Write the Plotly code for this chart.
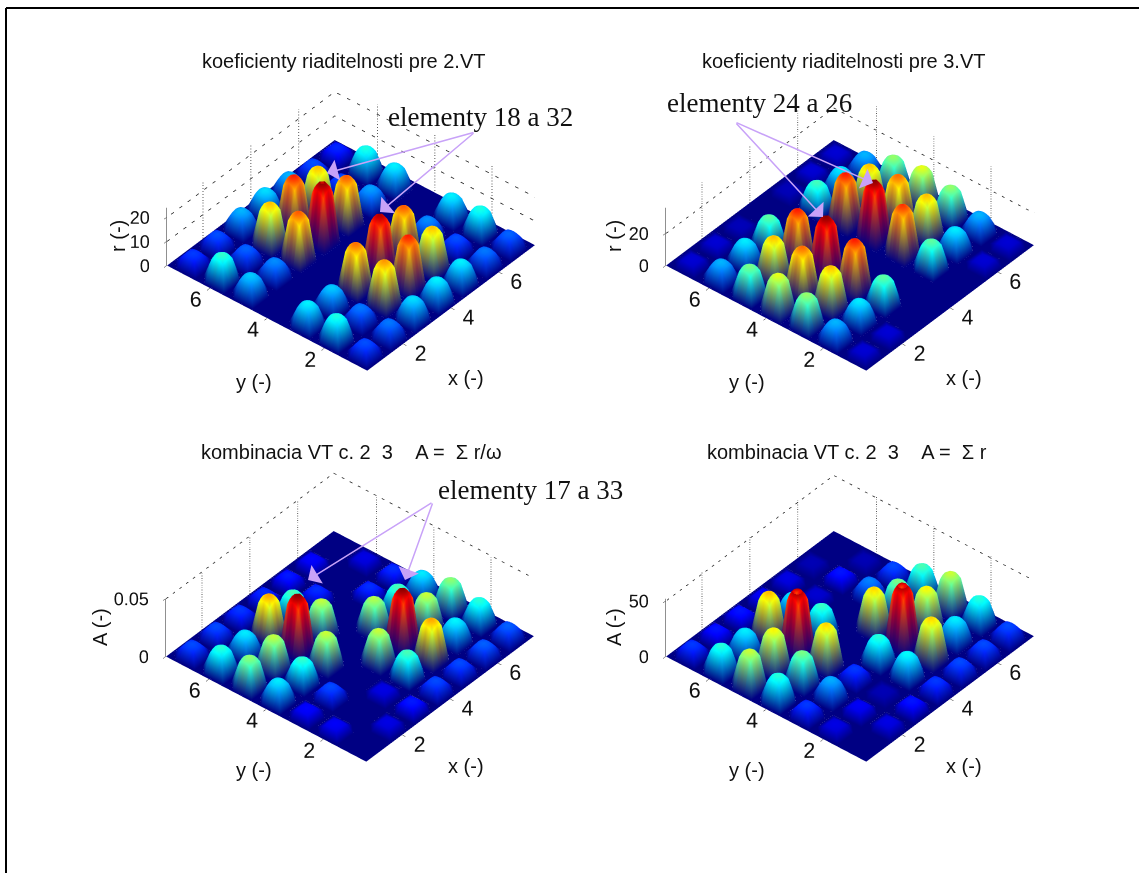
import plotly.graph_objects as go

x_cells = [1, 2, 3, 4, 5, 6, 7]
y_cells = [1, 2, 3, 4, 5, 6, 7]

r_vt2 = [
    [5, 6, 8.5, 9, 9, 6, 5.5],
    [10, 6, 18, 21, 17, 5, 10],
    [9, 8, 19, 23.5, 19.5, 6.5, 9],
    [0, 0, 0, 0, 0, 0, 0],
    [8, 6.5, 19.5, 24.5, 19.5, 7, 9],
    [10.5, 5.5, 17, 21, 17, 5, 10],
    [4.5, 5, 7.5, 8.5, 7.5, 5, 4],
]
r_vt3 = [
    [3, 3, 0, 0, 0, 3, 3],
    [11, 13, 17, 0, 17, 13, 11],
    [19, 25, 31, 0, 30, 25, 19],
    [22, 28, 36, 0, 36, 28, 22],
    [18, 25, 31, 0, 31, 25, 19],
    [11, 13, 17, 0, 16, 13, 11],
    [3, 3, 2, 0, 2, 3, 3],
]
a_omega = [
    [0, .0048, .0072, .0096, .0096, .0106, .0106],
    [.0058, 0, .0048, .0216, .0346, .0178, .0202],
    [.0062, .0096, 0, .0278, .048, .0278, .025],
    [.0173, .0206, .0278, 0, .0269, .0216, .0173],
    [.025, .0274, .048, .0274, 0, .0082, .0082],
    [.0202, .0173, .0346, .0216, .0082, 0, .0048],
    [.0096, .0096, .0086, .0082, .0072, .0062, 0],
]
a_sum = [
    [0, 5.5, 8, 10, 11, 11, 11],
    [5.5, 6.6, 2.8, 21, 37, 20, 23],
    [10, 16.5, 10, 23, 55, 35, 32],
    [23, 27.5, 37, 0, 37, 27.5, 25],
    [32, 35, 55, 24, 0, 14, 11],
    [23, 20, 38.5, 20, 4.4, 8, 2.8],
    [10, 8, 8, 7, 5.5, 2.8, 0],
]

titles = ["koeficienty riaditelnosti pre 2.VT", "koeficienty riaditelnosti pre 3.VT",
          "kombinacia VT c. 2  3    A =  Σ r/ω", "kombinacia VT c. 2  3    A =  Σ r"]
z_tops = [24, 36, 0.05, 52]
z_ticks = [[0, 10, 20], [0, 20], [0, 0.05], [0, 50]]
xy_ticks = [2, 4, 6]

bump_offsets = [-0.5, -0.46, -0.2, -0.1, 0.0, 0.1, 0.2, 0.46]
bump_profile = [0.0, 0.0, 0.9, 0.97, 1.0, 0.97, 0.9, 0.0]

JET = [(0.0, (0, 0, 131)), (0.125, (0, 0, 255)), (0.375, (0, 255, 255)),
       (0.625, (255, 255, 0)), (0.875, (255, 0, 0)), (1.0, (128, 0, 0))]


def jet(t):
    t = max(0.0, min(1.0, t))
    for (a, ca), (b, cb) in zip(JET, JET[1:]):
        if t <= b:
            f = (t - a) / (b - a)
            return "rgb(%d,%d,%d)" % tuple(round(p + (q - p) * f) for p, q in zip(ca, cb))
    return "rgb(128,0,0)"


def build_mesh(values, scene):
    vmax = max(max(r) for r in values)
    xs, ps = [], []
    for c in x_cells:
        for o, p in zip(bump_offsets, bump_profile):
            xs.append(c + o)
            ps.append((c - 1, p))
    xs.append(7.5)
    ps.append((6, 0.0))
    n = len(xs)
    X, Y, Z, C, I, J, K = [], [], [], [], [], [], []
    for jy in range(n):
        for ix in range(n):
            cx, px = ps[ix]
            cy, py = ps[jy]
            z = values[cy][cx] * px * py
            X.append(xs[ix])
            Y.append(xs[jy])
            Z.append(z)
            C.append(jet(z / vmax))
    for jy in range(n - 1):
        for ix in range(n - 1):
            a = jy * n + ix
            b, c, d = a + 1, a + n, a + n + 1
            I += [a, a]
            J += [b, d]
            K += [d, c]
    return go.Mesh3d(x=X, y=Y, z=Z, i=I, j=J, k=K, vertexcolor=C, scene=scene,
                     flatshading=False, hoverinfo="skip", showscale=False,
                     lightposition=dict(x=1000, y=2000, z=10000),
                     lighting=dict(ambient=1, diffuse=0, specular=0, roughness=0.5, fresnel=0.2))


def walls(ztop, ticks, scene):
    X, Y, Z = [], [], []
    for v in xy_ticks:
        X += [v, v, None]
        Y += [7.5, 7.5, None]
        Z += [0, ztop, None]
        X += [7.5, 7.5, None]
        Y += [v, v, None]
        Z += [0, ztop, None]
    for t in ticks[1:]:
        X += [0.5, 7.5, 7.5, None]
        Y += [7.5, 7.5, 0.5, None]
        Z += [t, t, t, None]
    return go.Scatter3d(x=X, y=Y, z=Z, mode="lines", scene=scene, hoverinfo="skip",
                        showlegend=False, line=dict(color="#222222", width=1.5, dash="dot"))


def z_labels(ticks, scene):
    return go.Scatter3d(x=[0.5] * len(ticks), y=[7.5] * len(ticks), z=ticks, mode="text",
                        text=[str(t) for t in ticks], textposition="middle left",
                        scene=scene, hoverinfo="skip", showlegend=False,
                        textfont=dict(size=18, family="Liberation Sans", color="#111111"))


panels = [r_vt2, r_vt3, a_omega, a_sum]
domains = [((0.058, 0.558), (0.501, 0.981)), ((0.496, 0.996), (0.501, 0.981)),
           ((0.057, 0.557), (0.053, 0.533)), ((0.496, 0.996), (0.053, 0.533))]

fig = go.Figure()
layout = dict(width=1139, height=873, margin=dict(l=0, r=0, t=0, b=0),
              paper_bgcolor="white", showlegend=False,
              font=dict(family="Liberation Sans", color="#111111"))
for k, vals in enumerate(panels):
    name = "scene" if k == 0 else "scene%d" % (k + 1)
    fig.add_trace(build_mesh(vals, name))
    fig.add_trace(walls(z_tops[k], z_ticks[k], name))
    fig.add_trace(z_labels(z_ticks[k], name))
    common = dict(showgrid=False, zeroline=False, showbackground=False, showspikes=False,
                  title=dict(text=""), ticks="outside", ticklen=4, tickcolor="#222222", tickangle=0,
                  tickfont=dict(size=16, family="Liberation Sans", color="#111111"))
    pad = z_tops[k] * 0.002
    layout[name] = dict(
        domain=dict(x=domains[k][0], y=domains[k][1]),
        aspectmode="manual", aspectratio=dict(x=1.25, y=1.25, z=0.355),
        camera=dict(eye=dict(x=-0.8, y=-0.67, z=0.84), up=dict(x=0, y=0, z=1),
                    center=dict(x=0, y=0, z=0), projection=dict(type="orthographic")),
        xaxis=dict(range=[0.49, 7.51], tickvals=xy_ticks, showline=False, **common),
        yaxis=dict(range=[0.49, 7.51], tickvals=xy_ticks, showline=False, **common),
        zaxis=dict(range=[-pad, z_tops[k]], tickvals=z_ticks[k], showline=True, linecolor="#222222",
                   linewidth=1, showticklabels=False, **common),
    )
fig.update_layout(**layout)

for x0, y0, x1, y1 in [(6, 8, 6, 873), (6, 8, 1139, 8)]:
    fig.add_shape(type="line", xref="paper", yref="paper", x0=x0 / 1139, x1=x1 / 1139,
                  y0=1 - y0 / 873, y1=1 - y1 / 873, line=dict(color="black", width=2))

title_pos = [(343, 61), (843, 61), (351, 452), (847, 452)]
for t, (px, py) in zip(titles, title_pos):
    fig.add_annotation(x=px / 1139, y=1 - py / 873, xref="paper", yref="paper", showarrow=False,
                       xanchor="center", yanchor="middle",
                       text=t.replace("  ", "\u00a0\u00a0"), font=dict(size=20, family="Liberation Sans", color="#111111"))

labels = [("y (-)", 254, 382), ("x (-)", 466, 378), ("y (-)", 747, 382), ("x (-)", 964, 378),
          ("y (-)", 254, 770), ("x (-)", 466, 766), ("y (-)", 747, 770), ("x (-)", 964, 766)]
for t, px, py in labels:
    fig.add_annotation(x=px / 1139, y=1 - py / 873, xref="paper", yref="paper", showarrow=False,
                       xanchor="center", yanchor="middle",
                       text=t, font=dict(size=20, family="Liberation Sans", color="#111111"))
zlabels = [("r (-)", 118, 236), ("r (-)", 614, 236), ("A (-)", 100, 627), ("A (-)", 614, 627)]
for t, px, py in zlabels:
    fig.add_annotation(x=px / 1139, y=1 - py / 873, xref="paper", yref="paper", showarrow=False,
                       xanchor="center", yanchor="middle",
                       textangle=-90, text=t, font=dict(size=20, family="Liberation Sans", color="#111111"))

notes = [("elementy 18 a 32", 480, 117), ("elementy 24 a 26", 759, 103), ("elementy 17 a 33", 530, 490)]
for t, px, py in notes:
    fig.add_annotation(x=px / 1139, y=1 - py / 873, xref="paper", yref="paper", showarrow=False,
                       xanchor="center", yanchor="middle",
                       text=t, font=dict(size=27, family="Liberation Serif", color="#111111"))

arrows = [(475, 132, 327, 173), (475, 132, 380, 212), (735, 122, 873, 183), (735, 122, 823, 217),
          (433, 502, 308, 580), (433, 502, 405, 580)]
for x0, y0, x1, y1 in arrows:
    fig.add_annotation(x=x1 / 1139, y=1 - y1 / 873, ax=x0 - x1, ay=y0 - y1,
                       xref="paper", yref="paper", axref="pixel", ayref="pixel", text="",
                       showarrow=True, arrowhead=1, arrowsize=2.4, arrowwidth=1.5, arrowcolor="#c8a2f8")

fig.write_html("out.html", post_script="document.body.style.margin='0';",
               config=dict(displayModeBar=False))
